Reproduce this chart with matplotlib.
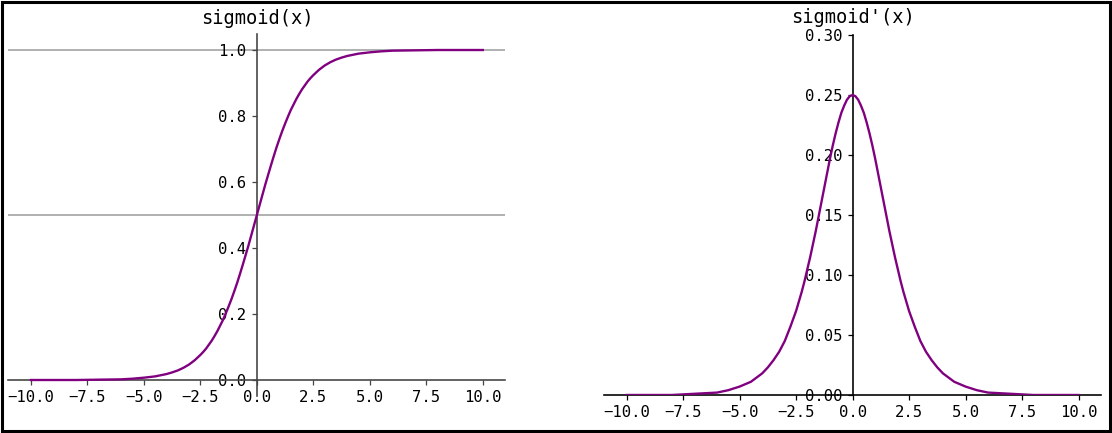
import matplotlib

matplotlib.use("Agg")
import matplotlib.pyplot as plt
from matplotlib.patches import Rectangle

# values
x_vals = [-10, -9, -8, -7, -6, -5.5, -5, -4.5, -4, -3.75, -3.5, -3.25, -3,
          -2.75, -2.5, -2.375, -2.25, -2.125, -2, -1.875, -1.75, -1.625,
          -1.5, -1.375, -1.25, -1.125, -1, -0.875, -0.75, -0.625, -0.5,
          -0.375, -0.25, -0.125,
          0,
          0.125, 0.25, 0.375, 0.5, 0.625, 0.75, 0.875, 1, 1.125, 1.25,
          1.375, 1.5, 1.625, 1.75, 1.875, 2, 2.125, 2.25, 2.375, 2.5, 2.75,
          3, 3.25, 3.5, 3.75, 4, 4.5, 5, 5.5, 6, 7, 8, 9, 10]
sigmoid_vals = [0.000, 0.000, 0.000, 0.001, 0.002, 0.004, 0.007, 0.011, 0.018,
                0.023, 0.029, 0.037, 0.047, 0.060, 0.076, 0.085, 0.095, 0.107,
                0.119, 0.133, 0.148, 0.165, 0.182, 0.202, 0.223, 0.245, 0.269,
                0.294, 0.321, 0.349, 0.378, 0.407, 0.438, 0.469,
                0.500,
                0.531, 0.562, 0.593, 0.622, 0.651, 0.679, 0.706, 0.731, 0.755,
                0.777, 0.798, 0.818, 0.835, 0.852, 0.867, 0.881, 0.893, 0.905,
                0.915, 0.924, 0.940, 0.953, 0.963, 0.971, 0.977, 0.982, 0.989,
                0.993, 0.996, 0.998, 0.999, 1.000, 1.000, 1.000]
deriv_vals = [0.000, 0.000, 0.000, 0.001, 0.002, 0.004, 0.007, 0.011, 0.018,
              0.023, 0.029, 0.036, 0.045, 0.057, 0.070, 0.078, 0.086, 0.095,
              0.105, 0.115, 0.126, 0.137, 0.149, 0.161, 0.173, 0.185, 0.197,
              0.208, 0.218, 0.227, 0.235, 0.241, 0.246, 0.249,
              0.250,
              0.249, 0.246, 0.241, 0.235, 0.227, 0.218, 0.208, 0.197, 0.185,
              0.173, 0.161, 0.149, 0.137, 0.126, 0.115, 0.105, 0.095, 0.086,
              0.078, 0.070, 0.057, 0.045, 0.036, 0.029, 0.023, 0.018, 0.011,
              0.007, 0.004, 0.002, 0.001, 0.000, 0.000, 0.000]
ref_lines = [0.5, 1.0]
x_ticks = [-10, -7.5, -5, -2.5, 0, 2.5, 5, 7.5, 10]

S = 1.125  # reference was rendered a bit larger than 100 dpi
plt.rcParams["font.family"] = ["DejaVu Sans Mono"]
plt.rcParams["font.size"] = 10 * S

fig = plt.figure(figsize=(11.12, 4.33), dpi=100)
ax1 = fig.add_axes([0.0075, 0.0843, 0.447, 0.8383])
ax2 = fig.add_axes([0.5432, 0.0878, 0.447, 0.8314])


def center_axes(ax, color):
    ax.spines["left"].set_position("zero")
    ax.spines["bottom"].set_position("zero")
    ax.spines["right"].set_visible(False)
    ax.spines["top"].set_visible(False)
    for side in ("left", "bottom"):
        ax.spines[side].set_color(color)
        ax.spines[side].set_linewidth(0.8 * S * 1.3)
    ax.tick_params(length=3.5 * S, width=0.8 * S, color=color,
                   labelsize=10 * S)
    ax.set_xticks(x_ticks)
    ax.set_xlim(-11, 11)


for y in ref_lines:
    ax1.axhline(y, color="#b0b0b0", lw=1.4, zorder=1)
ax1.plot(x_vals, sigmoid_vals, color="purple", lw=1.5 * S, zorder=3)
ax1.set_yticks([0.0, 0.2, 0.4, 0.6, 0.8, 1.0])
center_axes(ax1, "#444444")
ax1.set_title("sigmoid(x)", fontsize=12 * S, pad=6 * S)

ax2.plot(x_vals, deriv_vals, color="purple", lw=1.5 * S, zorder=3)
ax2.set_ylim(0, 0.30)
ax2.set_yticks([0.0, 0.05, 0.10, 0.15, 0.20, 0.25, 0.30])
center_axes(ax2, "black")
ax2.set_title("sigmoid'(x)", fontsize=12 * S, pad=8.6)

fig.patches.append(Rectangle((0.0015, 0.0035), 0.997, 0.993,
                             transform=fig.transFigure, fill=False,
                             edgecolor="black", lw=2.2))

fig.savefig("out.png", dpi=100)
